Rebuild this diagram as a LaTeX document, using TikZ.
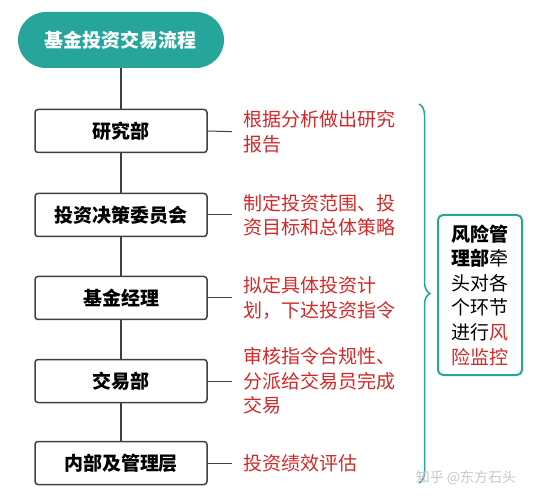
\documentclass[tikz,border=0pt]{standalone}
\usepackage{fontspec}
\setmainfont{Noto Sans CJK SC}
\usepackage{tikz}
\usetikzlibrary{decorations.pathreplacing}

\definecolor{teal1}{RGB}{38,166,154}
\definecolor{boxline}{RGB}{64,64,64}
\definecolor{redtext}{RGB}{212,40,40}

\begin{document}
\begin{tikzpicture}[x=1pt, y=-1pt,
        title/.style={rounded corners=28pt, fill=teal1, text=white, minimum width=206pt, minimum height=56pt, font=\fontsize{19}{24}\selectfont\bfseries},
        stage/.style={draw=boxline, line width=1.5pt, rounded corners=3pt, fill=white, minimum width=172pt, minimum height=43pt, font=\fontsize{19}{24}\selectfont\bfseries},
        note/.style={anchor=west, inner sep=0pt, align=left, text=redtext, font=\fontsize{19}{24.5}\selectfont},
        link/.style={draw=boxline, line width=1.5pt}]
        \useasboundingbox (0,0) rectangle (539,500);

        \node[title] (0) at (121,40) {基金投资交易流程};
        \node[stage] (1) at (121,131) {研究部};
        \node[stage] (2) at (121,215) {投资决策委员会};
        \node[stage] (3) at (121,298) {基金经理};
        \node[stage] (4) at (121,381) {交易部};
        \node[stage] (5) at (121,463) {内部及管理层};

        \node[note] (t1) at (243,132) {根据分析做出研究\\报告};
        \node[note] (t2) at (243,215) {制定投资范围、投\\资目标和总体策略};
        \node[note] (t3) at (243,298) {拟定具体投资计\\划，下达投资指令};
        \node[note] (t4) at (243,381) {审核指令合规性、\\分派给交易员完成\\交易};
        \node[note] (t5) at (243,463) {投资绩效评估};

        \node[draw=teal1, line width=2pt, rounded corners=5pt, fill=white, minimum width=84pt, minimum height=160pt, text width=58pt, align=left, inner sep=0pt, font=\fontsize{19}{24.6}\selectfont] (risk) at (480,295)
            {{\bfseries 风险管}\\{\bfseries 理部}牵\\头对各\\个环节\\进行{\color{redtext}风}\\{\color{redtext}险监控}};

        \coordinate (top) at (419,104);
        \coordinate (bot) at (419,483);
        \draw[teal1, line width=1.5pt, decorate, decoration={brace, amplitude=11pt, aspect=0.5}] (top) -- (bot);

        \node[text=black!22, font=\fontsize{14}{16}\selectfont] (mark) at (466,478) {知乎 @东方石头};

        \draw[link] (0) -- (1);
        \draw[link] (1) -- (2);
        \draw[link] (2) -- (3);
        \draw[link] (3) -- (4);
        \draw[link] (4) -- (5);
        \draw[boxline, line width=1pt, shorten >=11pt] (1.east) -- (t1.west);
        \draw[boxline, line width=1pt, shorten >=11pt] (2.east) -- (t2.west);
        \draw[boxline, line width=1pt, shorten >=11pt] (3.east) -- (t3.west);
        \draw[boxline, line width=1pt, shorten >=11pt] (4.east) -- (t4.west);
        \draw[boxline, line width=1pt, shorten >=11pt] (5.east) -- (t5.west);
    \end{tikzpicture}
\end{document}
